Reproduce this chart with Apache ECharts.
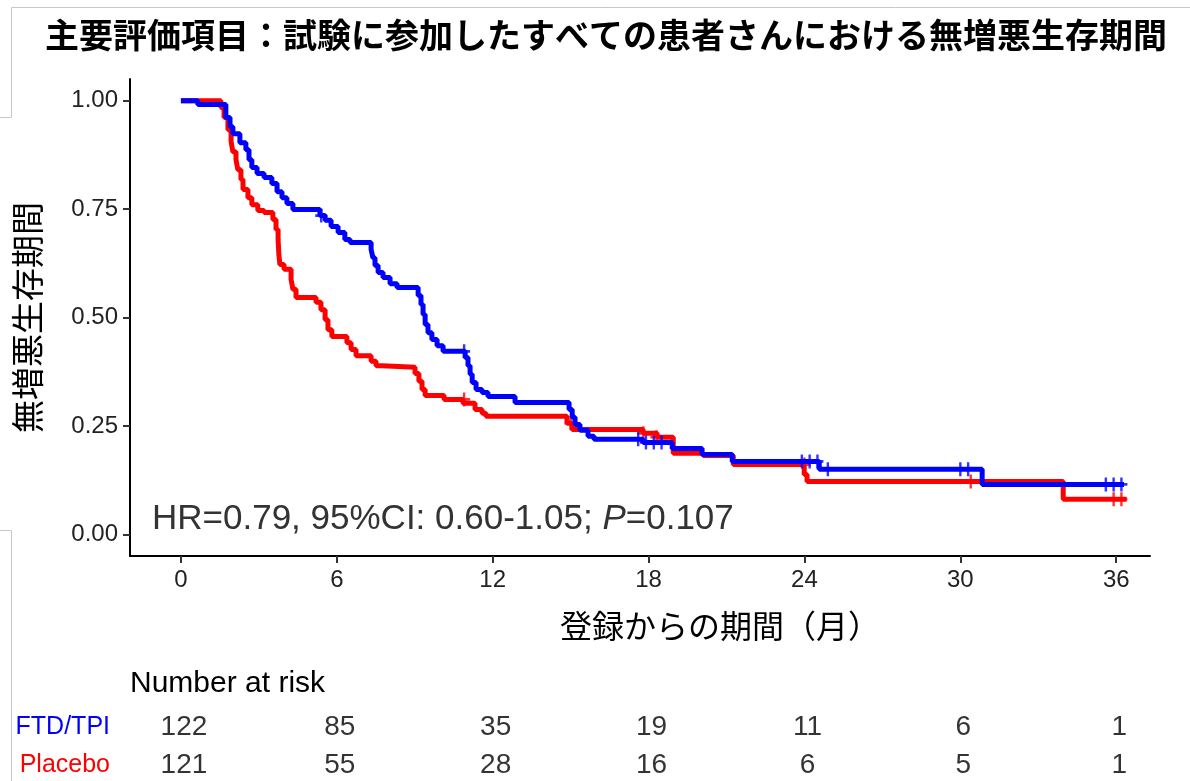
<!DOCTYPE html>
<html>
<head>
<meta charset="utf-8">
<script src="https://cdn.jsdelivr.net/npm/echarts@6/dist/echarts.min.js"></script>
<style>
html,body{margin:0;padding:0;background:#fff;}
#main{width:1190px;height:781px;}
</style>
</head>
<body>
<div id="main"></div>
<script>
// KM curves, [month, survival]
var ftdCurve = [[0,1],[0.65,0.991],[1.73,0.961],[1.89,0.940],[2.00,0.924],[2.27,0.903],[2.50,0.887],[2.62,0.864],[2.73,0.846],[2.93,0.832],[3.20,0.823],[3.50,0.809],[3.70,0.790],[3.89,0.776],[4.08,0.763],[4.31,0.749],[5.35,0.735],[5.55,0.724],[5.78,0.710],[6.05,0.696],[6.31,0.680],[6.51,0.673],[7.32,0.657],[7.39,0.638],[7.47,0.620],[7.59,0.604],[7.78,0.592],[8.05,0.578],[8.32,0.569],[9.13,0.551],[9.24,0.530],[9.32,0.507],[9.40,0.484],[9.51,0.465],[9.66,0.449],[9.86,0.435],[10.09,0.422],[10.94,0.408],[11.05,0.389],[11.13,0.369],[11.21,0.350],[11.36,0.334],[11.59,0.327],[11.82,0.318],[12.86,0.304],[14.94,0.288],[15.06,0.270],[15.17,0.253],[15.36,0.240],[15.67,0.226],[15.90,0.219],[17.79,0.212],[18.91,0.198],[20.06,0.184],[21.22,0.168],[24.57,0.150],[30.84,0.115],[36.3,0.115]];
var placeboCurve = [[0,1],[1.54,0.984],[1.66,0.961],[1.81,0.933],[1.93,0.906],[2.00,0.882],[2.12,0.864],[2.19,0.841],[2.31,0.818],[2.39,0.795],[2.58,0.776],[2.73,0.760],[2.96,0.747],[3.20,0.742],[3.54,0.726],[3.66,0.703],[3.74,0.680],[3.77,0.645],[3.81,0.622],[3.97,0.611],[4.24,0.588],[4.31,0.565],[4.43,0.546],[5.20,0.535],[5.39,0.518],[5.55,0.495],[5.66,0.472],[5.81,0.456],[6.39,0.442],[6.55,0.426],[6.74,0.412],[7.32,0.399],[7.51,0.389],[7.74,0.385],[9.01,0.371],[9.16,0.353],[9.28,0.334],[9.40,0.320],[10.13,0.311],[10.86,0.302],[11.32,0.288],[11.59,0.279],[11.74,0.272],[14.86,0.256],[15.06,0.242],[17.79,0.233],[18.33,0.224],[18.95,0.187],[20.10,0.182],[21.26,0.161],[23.99,0.138],[24.10,0.122],[33.96,0.081],[36.4,0.081]];
// censor marks
var ftdCensor = [[5.4,0.735],[10.9,0.422],[17.6,0.219],[17.9,0.212],[18.2,0.212],[18.5,0.212],[23.9,0.168],[24.2,0.168],[24.5,0.168],[24.9,0.150],[30.0,0.150],[30.3,0.150],[35.6,0.115],[35.9,0.115],[36.2,0.115]];
var placeboCensor = [[10.9,0.311],[15.0,0.256],[17.8,0.233],[18.3,0.224],[24.0,0.161],[30.4,0.122],[35.9,0.081],[36.2,0.081]];
// number at risk
var riskTimes = [0,6,12,18,24,30,36];
var ftdRisk = [122,85,35,19,11,6,1];
var placeboRisk = [121,55,28,16,6,5,1];
var yTicks = [0,0.25,0.5,0.75,1];
var xTicks = [0,6,12,18,24,30,36];

var BLUE = '#0000ff', RED = '#ff0000';
var plusPath = 'path://M4,0h2v4h4v2h-4v4h-2v-4h-4v-2h4z';
var xMin = -1.96, xMax = 37.3;

function riskData(arr){
    var res = [];
    for(var i=0;i<riskTimes.length;i++){
        res.push([riskTimes[i],0,arr[i]]);
    }
    return res;
}
function hiddenX(idx){
    return {gridIndex:idx,type:'value',min:xMin,max:xMax,show:false};
}
function rowY(idx,name,color){
    return {gridIndex:idx,type:'category',data:[name],
        axisLine:{show:false},axisTick:{show:false},splitLine:{show:false},
        axisLabel:{color:color,fontSize:25,fontFamily:'Liberation Sans',margin:20}};
}
function riskSeries(idx,arr){
    return {type:'scatter',xAxisIndex:idx,yAxisIndex:idx,symbolSize:0,silent:true,
        data:riskData(arr),
        label:{show:true,position:'inside',color:'#000',fontSize:28,fontFamily:'Liberation Sans',
            offset:[3,0],formatter:function(p){return p.value[2];}}};
}

var chart = echarts.init(document.getElementById('main'));
var option = {
    backgroundColor:'#fff',
    animation:false,
    title:{
        text:'主要評価項目：試験に参加したすべての患者さんにおける無増悪生存期間',
        left:601,top:13,textAlign:'center',
        textStyle:{fontSize:34,fontWeight:'bold',color:'#000',fontFamily:'Noto Sans CJK JP'}
    },
    grid:[
        {left:130,right:40,top:79,bottom:225},
        {left:130,right:40,top:712,height:30},
        {left:130,right:40,top:750,height:30}
    ],
    xAxis:[
        {gridIndex:0,type:'value',min:xMin,max:xMax,
            axisLine:{show:true,onZero:false,lineStyle:{color:'#000',width:2}},
            axisTick:{show:true,length:7,lineStyle:{color:'#333',width:2},customValues:xTicks},
            axisLabel:{color:'#222',fontSize:24,fontFamily:'Liberation Sans',margin:12,customValues:xTicks},
            splitLine:{show:false}},
        hiddenX(1),hiddenX(2)
    ],
    yAxis:[
        {gridIndex:0,type:'value',min:-0.05,max:1.05,
            name:'無増悪生存期間',nameLocation:'middle',nameRotate:90,nameGap:86,
            nameTextStyle:{fontSize:33,color:'#000',fontFamily:'Noto Sans CJK JP'},
            axisLine:{show:true,onZero:false,lineStyle:{color:'#000',width:2}},
            axisTick:{show:true,length:7,lineStyle:{color:'#333',width:2},customValues:yTicks},
            axisLabel:{color:'#222',fontSize:24,fontFamily:'Liberation Sans',margin:12,customValues:yTicks,
                formatter:function(v){return v.toFixed(2);}},
            splitLine:{show:false}},
        rowY(1,'FTD/TPI',BLUE),
        rowY(2,'Placebo',RED)
    ],
    series:[
        {name:'Placebo',type:'line',step:'end',showSymbol:false,data:placeboCurve,
            lineStyle:{color:RED,width:5},itemStyle:{color:RED},z:2},
        {name:'FTD/TPI',type:'line',step:'end',showSymbol:false,data:ftdCurve,
            lineStyle:{color:BLUE,width:5},itemStyle:{color:BLUE},z:3},
        {type:'scatter',data:placeboCensor,symbol:plusPath,symbolSize:[12,14],
            itemStyle:{color:RED},z:2},
        {type:'scatter',data:ftdCensor,symbol:plusPath,symbolSize:[12,14],
            itemStyle:{color:BLUE},z:3},
        riskSeries(1,ftdRisk),
        riskSeries(2,placeboRisk)
    ],
    graphic:[
        {type:'text',left:152,top:502,
            style:{text:'{a|HR=0.79, 95%CI: 0.60-1.05; }{b|P}{a|=0.107}',
                rich:{a:{fontSize:35,fontFamily:'Liberation Sans',fill:'#333'},
                    b:{fontSize:35,fontFamily:'Liberation Sans',fontStyle:'italic',fill:'#333'}}}},
        {type:'text',left:560,top:610,
            style:{text:'登録からの期間（月）',fontSize:32,fontFamily:'Noto Sans CJK JP',fill:'#000'}},
        {type:'text',left:130,top:669,
            style:{text:'Number at risk',fontSize:30,fontFamily:'Liberation Sans',fill:'#000'}},
        {type:'polyline',shape:{points:[[1190,7.5],[11.5,7.5],[11.5,117.5],[0,117.5]]},
            style:{stroke:'#c8c8c8',lineWidth:1,fill:null}},
        {type:'polyline',shape:{points:[[0,530.5],[11.5,530.5],[11.5,781]]},
            style:{stroke:'#c8c8c8',lineWidth:1,fill:null}}
    ]
};
chart.setOption(option);
</script>
</body>
</html>
